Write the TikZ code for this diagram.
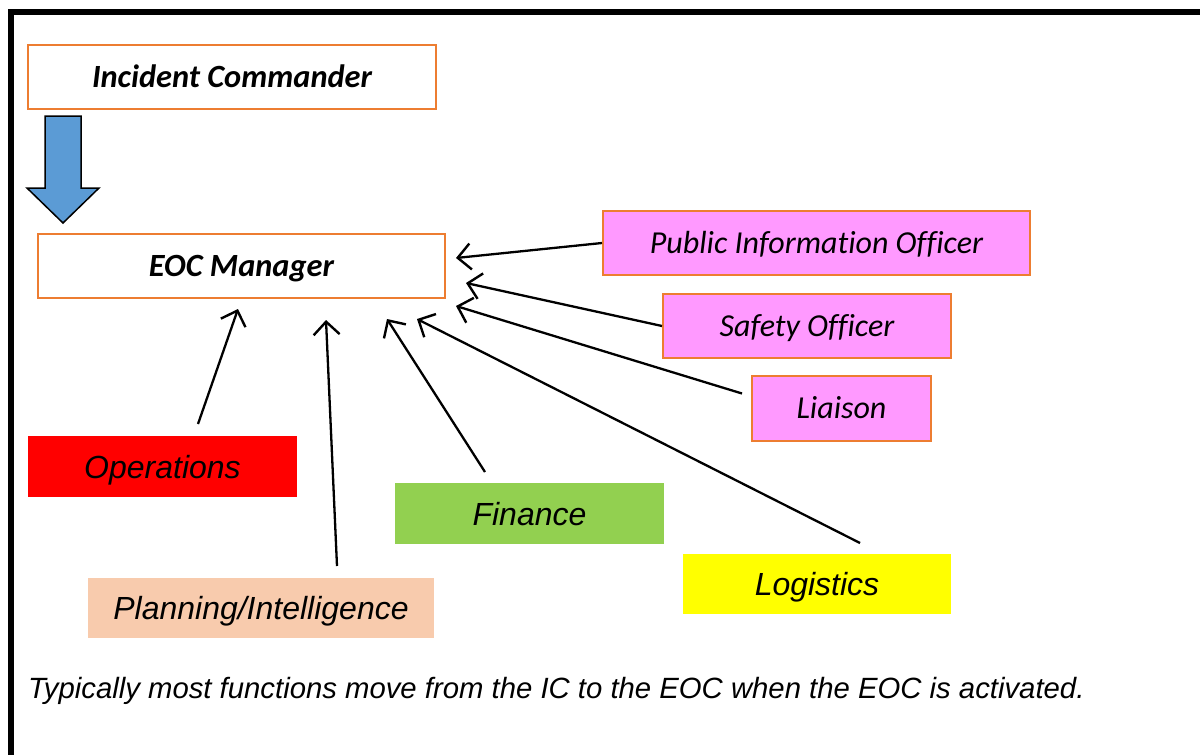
\documentclass[tikz,border=0pt]{standalone}
\usepackage{fontspec}
\setmainfont[Ligatures=NoCommon]{Carlito}
\newfontfamily\arialfont{Liberation Sans}
\usetikzlibrary{arrows.meta}
\definecolor{boxorange}{HTML}{ED7D31}
\definecolor{boxpink}{HTML}{FF99FF}
\definecolor{boxred}{HTML}{FF0000}
\definecolor{boxgreen}{HTML}{92D050}
\definecolor{boxpeach}{HTML}{F8CBAD}
\definecolor{boxyellow}{HTML}{FFFF00}
\definecolor{arrowblue}{HTML}{5B9BD5}
\tikzset{
  orgbox/.style={draw=boxorange, line width=2pt, fill=white, inner sep=0pt,
    text height=20.7pt, text depth=0pt,
    font=\fontsize{32.4}{32}\selectfont\bfseries\itshape},
  staffbox/.style={draw=boxorange, line width=2pt, fill=boxpink, inner sep=0pt,
    text height=20.5pt, text depth=0pt,
    font=\fontsize{32}{32}\selectfont\itshape},
  sectbox/.style={draw=none, inner sep=0pt,
    text height=23pt, text depth=0pt,
    font=\arialfont\fontsize{32}{32}\selectfont\itshape},
  link/.style={line width=2.3pt, -{Straight Barb[length=13pt,width=26pt,line width=2.4pt]}},
}
\begin{document}
\begin{tikzpicture}[x=1pt,y=-1pt]
\useasboundingbox (0,0) rectangle (1200,755);
\begin{scope}
\clip (0,0) rectangle (1200,755);
\draw[line width=6pt] (11,12) rectangle (1230,790);
\end{scope}
% nodes
\node[orgbox, minimum width=408pt, minimum height=64pt] (ic) at (232,77) {Incident Commander};
\node[orgbox, minimum width=407pt, minimum height=64pt] (eoc) at (241.5,266) {EOC Manager};
\node[staffbox, minimum width=427pt, minimum height=64pt] (pio) at (816.5,243) {Public Information Officer};
\node[staffbox, minimum width=288pt, minimum height=64pt] (safe) at (807,326) {Safety Officer};
\node[staffbox, minimum width=179pt, minimum height=65pt] (liai) at (841.5,408.5) {Liaison};
\node[sectbox, fill=boxred, minimum width=269pt, minimum height=61pt] (ops) at (162.5,466.5) {Operations};
\node[sectbox, fill=boxgreen, minimum width=269pt, minimum height=61pt] (fin) at (529.5,513.5) {Finance};
\node[sectbox, fill=boxpeach, minimum width=346pt, minimum height=60pt] (plan) at (261,608) {Planning/Intelligence};
\node[sectbox, fill=boxyellow, minimum width=268pt, minimum height=60pt] (log) at (817,584) {Logistics};
\node[anchor=base west, inner sep=0pt, font=\arialfont\fontsize{29.3}{29}\selectfont\itshape] (cap) at (28,698)
  {Typically most functions move from the IC to the EOC when the EOC is activated.};
% blue block arrow
\draw[fill=arrowblue, line width=1.5pt, line join=miter]
  (45,116) -- (81,116) -- (81,188) -- (99,188) -- (63,223) -- (27,188) -- (45,188) -- cycle;
% connector ends
\coordinate (pioT) at (456,258);
\coordinate (safeT) at (466,283);
\coordinate (liaiT) at (456,306);
\coordinate (logT) at (417,319);
\coordinate (finT) at (387,319);
\coordinate (planT) at (326,320);
\coordinate (opsT) at (238,309);
\coordinate (opsS) at (198,424);
\coordinate (planS) at (337,566);
\coordinate (finS) at (485,472);
\coordinate (logS) at (860,543);
\draw[link] (pio.west) -- (pioT);
\draw[link] (safe.west) -- (safeT);
\draw[link] ([xshift=-9pt,yshift=15pt]liai.west) -- (liaiT);
\draw[link] (logS) -- (logT);
\draw[link] (finS) -- (finT);
\draw[link] (planS) -- (planT);
\draw[link] (opsS) -- (opsT);
\end{tikzpicture}
\end{document}
